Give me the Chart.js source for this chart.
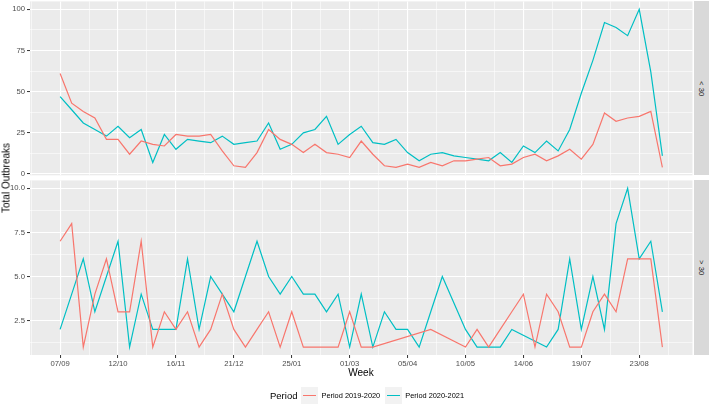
<!DOCTYPE html>
<html>
<head>
<meta charset="utf-8">
<script src="https://cdn.jsdelivr.net/npm/chart.js@4.4.0/dist/chart.umd.min.js"></script>
<style>
  body { margin: 0; background: #fff; font-family: "Liberation Sans", Arial, sans-serif; }
  #wrap { position: relative; width: 709px; height: 406px; overflow: hidden; }
  canvas { position: absolute; left: 0; }
  .strip { position: absolute; left: 694px; width: 15px; background: #d9d9d9;
           display: flex; align-items: center; justify-content: center; }
  .strip span { writing-mode: vertical-rl; font-size: 7.7px; color: #1a1a1a; }
  #ytitle { position: absolute; left: 6px; top: 178px; transform: translate(-50%, -50%) rotate(-90deg);
            font-size: 10px; color: #000; white-space: nowrap; }
  #xtitle { position: absolute; left: 361px; top: 372px; transform: translate(-50%, -50%);
            font-size: 10px; color: #000; }
  #legend { position: absolute; left: 270px; top: 386px; height: 18px; display: flex; align-items: center;
            font-size: 7.4px; color: #000; }
  #legend .ttl { font-size: 9.5px; margin-right: 4px; }
  #legend .key { width: 17px; height: 17px; background: #f2f2f2; position: relative; margin-right: 3px; }
  #legend .key i { position: absolute; left: 2px; right: 2px; top: 8px; height: 1.2px; }
  #legend .lab { margin-right: 5px; }
</style>
</head>
<body>
<div id="wrap">
  <canvas id="topChart" width="709" height="180" style="top:0"></canvas>
  <canvas id="botChart" width="709" height="200" style="top:180px"></canvas>
  <div class="strip" style="top:1.4px;height:174px"><span>&lt; 30</span></div>
  <div class="strip" style="top:180.4px;height:174.7px"><span>&gt; 30</span></div>
  <div id="ytitle">Total Outbreaks</div>
  <div id="xtitle">Week</div>
  <div id="legend">
    <span class="ttl">Period</span>
    <span class="key"><i style="background:#F8766D"></i></span><span class="lab">Period 2019-2020</span>
    <span class="key"><i style="background:#00BFC4"></i></span><span class="lab">Period 2020-2021</span>
  </div>
</div>
<script>
// Semanas (una por punto) y etiquetas del eje x, cada 5 semanas
const xTickLabels = ['07/09', '12/10', '16/11', '21/12', '25/01', '01/03', '05/04', '10/05', '14/06', '19/07', '23/08'];

// Panel superior: "< 30"
const under30_1920 = [61, 43, 38, 34, 21, 21, 12, 20, 18, 17,
                      24, 23, 23, 24, 14, 5, 4, 13, 27, 21,
                      18, 13, 18, 13, 12, 10, 20, 12, 5, 4,
                      6, 4, 7, 5, 8, 8, 9, 10, 5, 6,
                      10, 12, 8, 11, 15, 9, 18, 37, 32, 34,
                      35, 38, 4];
const under30_2021 = [47, 39, 31, 27, 23, 29, 22, 27, 7, 24,
                      15, 21, 20, 19, 23, 18, 19, 20, 31, 15,
                      18, 25, 27, 35, 18, 24, 29, 19, 18, 21,
                      13, 8, 12, 13, 11, 10, 9, 8, 13, 7,
                      17, 13, 20, 14, 27, 49, 69, 92, 89, 84,
                      100, 62, 11];

// Panel inferior: "> 30" (null = semana sin datos)
const over30_1920 = [7, 8, 1, 4, 6, 3, 3, 7, 1, 3,
                     2, 3, 1, 2, 4, 2, 1, 2, 3, 1,
                     3, 1, 1, 1, 1, 3, 1, 1, null, null,
                     null, null, 2, null, null, 1, 2, 1, 2, 3,
                     4, 1, 4, 3, 1, 1, 3, 4, 3, 6,
                     6, 6, 1];
const over30_2021 = [2, 4, 6, 3, 5, 7, 1, 4, 2, 2,
                     2, 6, 2, 5, 4, 3, 5, 7, 5, 4,
                     5, 4, 4, 3, 4, 1, 4, 1, 3, 2,
                     2, 1, 3, 5, null, 2, 1, 1, 1, 2,
                     null, null, 1, 2, 6, 2, 5, 2, 8, 10,
                     6, 7, 3];

// Ticks del eje y
const topTickValues = [0, 25, 50, 75, 100];
const topTickLabels = ['0', '25', '50', '75', '100'];
const botTickValues = [2.5, 5, 7.5, 10];
const botTickLabels = ['2.5', '5.0', '7.5', '10.0'];

const RED = '#F8766D';
const TEAL = '#00BFC4';

function toPoints(arr) {
    return arr.map((v, i) => ({ x: i, y: v })).filter(p => p.y !== null);
}

// fondo gris del panel
const panelBg = {
    id: 'panelBg',
    beforeDraw(chart) {
        const a = chart.chartArea;
        const c = chart.ctx;
        c.save();
        c.fillStyle = '#ebebeb';
        c.fillRect(a.left, a.top, a.right - a.left, a.bottom - a.top);
        c.restore();
    }
};

function makeChart(id, s1, s2, yMin, yMax, yMajors, yLabels, yMinors, showX, padTop, xHeight) {
    const xMajors = xTickLabels.map((l, i) => i * 5);
    const xAll = [-2.5];
    xMajors.forEach(v => { xAll.push(v); xAll.push(v + 2.5); });
    const yAll = yMajors.concat(yMinors).sort((a, b) => a - b);

    return new Chart(document.getElementById(id).getContext('2d'), {
        type: 'line',
        data: {
            datasets: [
                { label: 'Period 2019-2020', data: toPoints(s1), borderColor: RED, borderWidth: 1.2,
                  pointRadius: 0, tension: 0, fill: false },
                { label: 'Period 2020-2021', data: toPoints(s2), borderColor: TEAL, borderWidth: 1.2,
                  pointRadius: 0, tension: 0, fill: false }
            ]
        },
        options: {
            responsive: false,
            animation: false,
            layout: { padding: { left: 0, right: 16.5, top: padTop, bottom: 0 } },
            plugins: { legend: { display: false }, tooltip: { enabled: false } },
            scales: {
                x: {
                    type: 'linear',
                    min: -2.6,
                    max: 54.6,
                    afterBuildTicks: scale => { scale.ticks = xAll.map(v => ({ value: v })); },
                    afterFit: scale => {
                        scale.height = xHeight;
                        scale.paddingLeft = 0;
                        scale.paddingRight = 0;
                    },
                    border: { display: false },
                    grid: {
                        color: '#ffffff',
                        lineWidth: ctx => (ctx.tick && ctx.tick.value % 5 === 0) ? 1.1 : 0.55,
                        drawTicks: showX,
                        tickLength: 3,
                        tickColor: ctx => (ctx.tick && ctx.tick.value % 5 === 0) ? '#333333' : 'rgba(0,0,0,0)',
                        tickWidth: 1
                    },
                    ticks: {
                        display: showX,
                        autoSkip: false,
                        maxRotation: 0,
                        padding: 1.5,
                        color: '#4d4d4d',
                        font: { family: 'Liberation Sans', size: 7.7 },
                        callback: v => (v % 5 === 0) ? xTickLabels[v / 5] : ''
                    }
                },
                y: {
                    min: yMin,
                    max: yMax,
                    afterBuildTicks: scale => { scale.ticks = yAll.map(v => ({ value: v })); },
                    afterFit: scale => {
                        scale.width = 30;
                        scale.paddingTop = 0;
                        scale.paddingBottom = 0;
                    },
                    border: { display: false },
                    grid: {
                        color: '#ffffff',
                        lineWidth: ctx => (ctx.tick && yMajors.includes(ctx.tick.value)) ? 1.1 : 0.55,
                        tickLength: 3,
                        tickColor: ctx => (ctx.tick && yMajors.includes(ctx.tick.value)) ? '#333333' : 'rgba(0,0,0,0)',
                        tickWidth: 1
                    },
                    ticks: {
                        autoSkip: false,
                        padding: 2,
                        color: '#4d4d4d',
                        font: { family: 'Liberation Sans', size: 7.7 },
                        callback: v => {
                            const k = yMajors.indexOf(v);
                            return k >= 0 ? yLabels[k] : '';
                        }
                    }
                }
            }
        },
        plugins: [panelBg]
    });
}

makeChart('topChart', under30_1920, under30_2021, -0.8, 104.8,
          topTickValues, topTickLabels, [12.5, 37.5, 62.5, 87.5], false, 1.4, 4.7);
makeChart('botChart', over30_1920, over30_2021, 0.55, 10.45,
          botTickValues, botTickLabels, [1.25, 3.75, 6.25, 8.75], true, 0.4, 25);
</script>
</body>
</html>
